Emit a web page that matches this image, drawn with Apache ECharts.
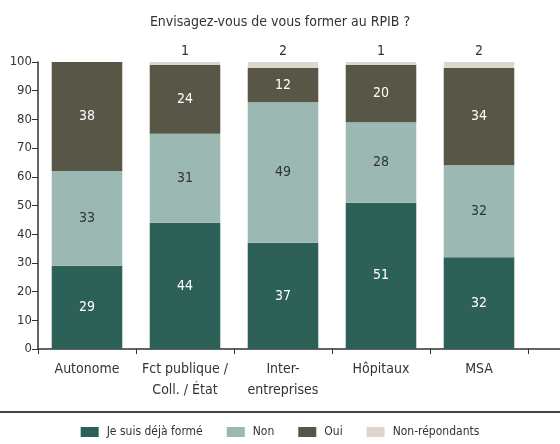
<!DOCTYPE html>
<html>
<head>
<meta charset="utf-8">
<script src="https://cdn.jsdelivr.net/npm/echarts@6/dist/echarts.min.js"></script>
<style>
  html, body { margin: 0; padding: 0; background: #fff; }
  #chart { width: 560px; height: 444px; }
</style>
</head>
<body>
<div id="chart"></div>
<script>
const categories = ['Autonome', 'Fct publique /\nColl. / État', 'Inter-\nentreprises', 'Hôpitaux', 'MSA'];
const dejaForme = [29, 44, 37, 51, 32];
const non = [33, 31, 49, 28, 32];
const oui = [38, 24, 12, 20, 34];
const nonRepondants = [0, 1, 2, 1, 2];
const yTicks = [0, 10, 20, 30, 40, 50, 60, 70, 80, 90, 100];

const FONT = '"Liberation Sans Narrow", "DejaVu Sans Condensed", "Roboto", sans-serif';
const hideZero = p => (p.value ? p.value : '');

const chart = echarts.init(document.getElementById('chart'));

chart.setOption({
  animation: false,
  textStyle: { fontFamily: FONT },
  title: {
    text: 'Envisagez-vous de vous former au RPIB ?',
    left: 'center',
    top: 10,
    textStyle: { fontFamily: FONT, fontSize: 14, fontWeight: 'normal', color: '#333' }
  },
  grid: { left: 38, right: 32, top: 62, bottom: 95 },
  legend: {
    top: 421,
    itemWidth: 18,
    itemHeight: 10,
    itemGap: 24,
    icon: 'rect',
    textStyle: { fontFamily: FONT, fontSize: 12, color: '#333', padding: [0, 0, 0, 3] },
    data: ['Je suis déjà formé', 'Non', 'Oui', 'Non-répondants']
  },
  xAxis: {
    type: 'category',
    data: categories,
    axisLine: { lineStyle: { color: '#333', width: 1.5 } },
    axisTick: { show: true, length: 5, lineStyle: { color: '#333' } },
    axisLabel: { interval: 0, fontFamily: FONT, fontSize: 14, color: '#333', margin: 10, lineHeight: 21 }
  },
  yAxis: {
    type: 'value',
    min: 0,
    max: 100,
    interval: 10,
    splitLine: { show: false },
    axisLine: { show: true, lineStyle: { color: '#333', width: 1.5 } },
    axisTick: { show: true, length: 6, lineStyle: { color: '#333' } },
    axisLabel: {
      fontFamily: FONT, fontSize: 13, color: '#333', margin: 6,
      formatter: v => (yTicks.includes(v) ? String(v) : '')
    }
  },
  series: [
    {
      name: 'Je suis déjà formé', type: 'bar', stack: 't', data: dejaForme,
      barCategoryGap: '28%',
      itemStyle: { color: '#2d6157' },
      label: { show: true, position: 'inside', color: '#fff', fontSize: 14, fontFamily: FONT }
    },
    {
      name: 'Non', type: 'bar', stack: 't', data: non,
      itemStyle: { color: '#9cb8b2' },
      label: { show: true, position: 'inside', color: '#333', fontSize: 14, fontFamily: FONT }
    },
    {
      name: 'Oui', type: 'bar', stack: 't', data: oui,
      itemStyle: { color: '#585747' },
      label: { show: true, position: 'inside', color: '#fff', fontSize: 14, fontFamily: FONT }
    },
    {
      name: 'Non-répondants', type: 'bar', stack: 't', data: nonRepondants,
      itemStyle: { color: '#ddd6cd' },
      label: { show: true, position: 'top', distance: 4, color: '#333', fontSize: 14, fontFamily: FONT, formatter: hideZero }
    }
  ],
  graphic: [
    // axis line runs on past the last category
    { type: 'line', shape: { x1: 528, y1: 349, x2: 560, y2: 349 }, style: { stroke: '#333', lineWidth: 1.5 } },
    // separator above legend
    { type: 'line', shape: { x1: 0, y1: 412, x2: 560, y2: 412 }, style: { stroke: '#444', lineWidth: 2 } }
  ]
});
</script>
</body>
</html>
